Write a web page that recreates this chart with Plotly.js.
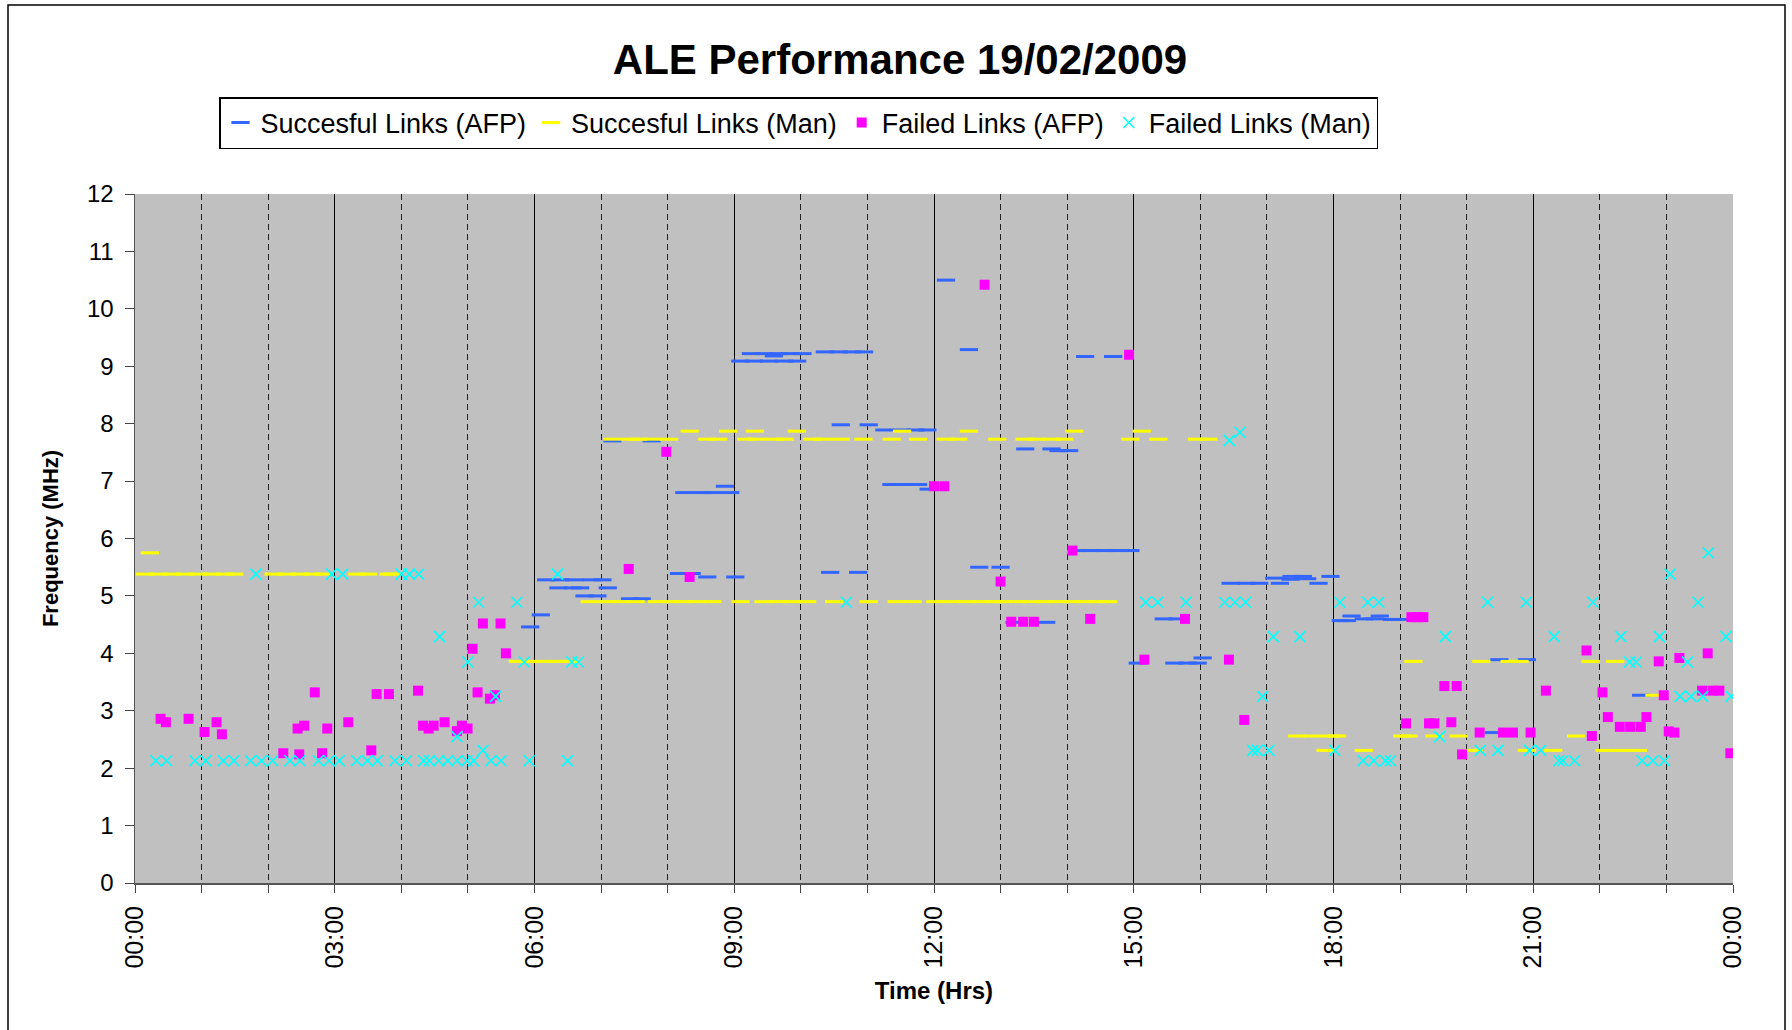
<!DOCTYPE html>
<html>
<head>
<meta charset="utf-8">
<script src="https://cdn.plot.ly/plotly-3.0.1.min.js"></script>
<style>html,body{margin:0;padding:0;background:#fff;}#chart{width:1792px;height:1030px;}</style>
</head>
<body>
<div id="chart"></div>
<script>
// ---- Data (time in hours of day, frequency in MHz) ----
const afpSuccTime = [5.935,6.095,6.175,6.385,6.60,6.86,7.02,6.36,6.575,6.685,7.10,6.75,6.945,7.435,7.61,7.17,7.76,
  9.09,9.295,9.52,9.75,9.945,9.25,9.445,9.67,9.845,10.025,9.595,10.36,10.57,10.77,10.95,10.6,11.02,
  11.255,11.52,11.72,11.9,8.25,8.515,8.675,8.94,8.86,11.36,11.56,11.76,11.92,8.17,8.36,8.595,9.015,10.44,10.86,
  12.18,12.525,14.27,14.69,13.37,13.765,13.87,14.03,14.165,14.37,14.565,14.77,14.95,12.68,13.0,13.21,13.685,
  15.45,15.66,15.06,15.61,15.81,15.96,16.035,
  16.455,16.69,16.885,17.11,17.195,17.37,17.54,17.955,17.355,17.605,17.775,
  18.27,18.11,18.2,18.455,18.62,18.695,18.88,18.985,
  20.49,20.905,20.41,22.62];
const afpSuccFreq = [4.46,4.67,5.28,5.28,5.28,5.28,5.28,5.14,5.14,5.14,5.14,5.0,5.0,4.95,4.95,7.70,7.70,
  9.09,9.09,9.09,9.09,9.09,9.22,9.22,9.22,9.22,9.22,9.18,9.25,9.25,9.25,9.25,7.98,7.98,
  7.89,7.89,7.89,7.89,6.80,6.80,6.80,6.80,6.91,6.94,6.94,6.94,6.86,5.39,5.39,5.33,5.33,5.41,5.41,
  10.50,9.29,9.17,9.17,7.56,7.56,7.53,7.53,5.79,5.79,5.79,5.79,5.79,5.50,5.50,4.54,4.54,
  4.60,4.60,3.83,3.83,3.83,3.83,3.92,
  5.22,5.22,5.22,5.31,5.22,5.34,5.34,5.34,5.29,5.30,5.22,
  4.65,4.57,4.57,4.60,4.60,4.65,4.59,4.59,
  3.89,3.89,2.62,3.27];

const manSuccTime = [0.224,0.149,0.349,0.549,0.75,0.95,1.15,1.35,1.49,2.08,2.28,2.48,2.68,2.83,3.34,3.50,3.81,3.86,
  5.75,5.935,6.135,6.335,6.51,6.83,7.10,7.30,7.52,7.84,8.04,8.24,8.44,8.67,7.17,7.435,7.56,7.76,8.02,
  8.33,8.91,9.31,9.94,11.52,8.595,8.76,9.18,9.335,9.595,9.76,10.175,10.335,10.6,10.94,11.365,11.76,
  9.095,9.44,9.67,9.86,10.095,10.5,11.02,11.44,11.68,
  12.02,12.26,12.49,12.71,12.91,13.03,13.26,13.46,13.66,13.865,14.065,14.265,14.465,14.615,
  12.525,14.105,15.12,12.175,12.365,12.95,13.36,13.54,13.765,13.955,14.95,15.37,15.95,16.12,
  19.2,17.455,17.695,17.955,18.055,19.03,19.13,19.515,19.88,17.88,18.455,
  20.22,20.645,20.795,21.86,22.23,22.82,21.645,20.11,20.905,21.30,22.07,22.305,22.57];
const manSuccFreq = [5.75,5.38,5.38,5.38,5.38,5.38,5.38,5.38,5.38,5.38,5.38,5.38,5.38,5.38,5.38,5.38,5.38,5.38,
  3.86,3.86,3.86,3.86,3.86,4.90,4.90,4.90,4.90,4.90,4.90,4.90,4.90,4.90,7.73,7.73,7.73,7.73,7.73,
  7.87,7.87,7.87,7.87,7.87,7.73,7.73,7.73,7.73,7.73,7.73,7.73,7.73,7.73,7.73,7.73,7.73,
  4.90,4.90,4.90,4.90,4.90,4.90,4.90,4.90,4.90,
  4.90,4.90,4.90,4.90,4.90,4.90,4.90,4.90,4.90,4.90,4.90,4.90,4.90,4.90,
  7.87,7.87,7.87,7.73,7.73,7.73,7.73,7.73,7.73,7.73,7.73,7.73,7.73,7.73,
  3.86,2.56,2.56,2.56,2.56,2.56,2.56,2.56,2.56,2.31,2.31,
  3.86,3.86,3.86,3.86,3.86,3.27,2.56,2.31,2.31,2.31,2.31,2.31,2.31];

const afpFailTime = [0.384,0.464,0.805,1.045,1.225,1.305,2.227,2.467,2.442,2.542,2.70,2.81,2.888,3.203,3.549,3.629,3.814,
  4.25,4.325,4.41,4.485,4.65,4.835,4.91,4.995,5.07,5.225,5.49,5.57,5.145,5.33,5.405,7.415,7.98,
  8.33,
  12.76,14.93,12.0,12.155,14.08,13.0,13.16,13.34,13.50,14.345,15.77,15.16,
  16.43,16.66,19.17,19.26,19.35,19.665,19.85,19.09,19.435,19.515,19.77,19.93,
  21.8,21.19,22.04,22.885,22.96,23.195,23.62,23.535,23.695,23.795,22.12,22.30,22.455,22.615,22.70,23.035,23.12,21.88,
  20.195,20.545,20.695,20.96,23.96];
const afpFailFreq = [2.86,2.80,2.86,2.63,2.80,2.59,2.26,2.24,2.69,2.74,3.32,2.26,2.69,2.80,2.31,3.29,3.29,
  3.35,2.74,2.69,2.74,2.80,2.645,2.74,2.69,4.08,4.52,4.52,4.0,3.32,3.21,3.27,5.47,7.51,
  5.33,
  10.42,9.2,6.91,6.91,5.79,5.25,4.55,4.55,4.55,4.6,4.6,3.89,
  3.89,2.84,4.63,4.63,4.63,3.43,3.43,2.78,2.78,2.78,2.80,2.24,
  4.05,3.35,3.32,3.86,3.27,3.92,4.0,3.35,3.35,3.35,2.89,2.72,2.72,2.72,2.89,2.64,2.62,2.56,
  2.62,2.62,2.62,2.62,2.26];

const manFailTime = [1.816,2.953,3.118,4.0,4.12,4.26,
  0.314,0.474,0.90,1.065,1.325,1.486,1.736,1.90,2.067,2.327,2.477,2.753,2.913,3.068,3.329,3.489,3.639,3.904,
  5.16,5.735,4.575,5.0,5.415,5.845,6.345,6.56,6.66,4.835,5.225,
  4.075,4.335,4.42,4.56,4.695,4.835,4.985,5.085,5.345,5.495,5.92,6.495,
  10.685,15.18,15.36,15.785,
  16.435,16.595,16.365,16.52,16.68,18.095,18.515,18.68,17.095,17.495,19.68,16.935,16.785,16.855,17.03,18.02,
  18.445,18.605,18.78,18.855,19.595,
  23.63,23.055,20.315,20.895,21.895,23.475,21.315,22.315,22.895,23.895,22.445,22.545,23.315,
  23.205,23.37,23.545,23.97,20.205,20.47,20.945,21.11,21.385,21.445,21.62,22.635,22.795,22.97];
const manFailFreq = [5.38,5.38,5.38,5.38,5.38,5.38,
  2.13,2.13,2.13,2.13,2.13,2.13,2.13,2.13,2.13,2.13,2.13,2.13,2.13,2.13,2.13,2.13,2.13,2.13,
  4.89,4.89,4.29,3.85,3.25,3.85,5.38,3.85,3.85,2.55,2.31,
  2.13,2.13,2.13,2.13,2.13,2.13,2.13,2.13,2.13,2.13,2.13,2.13,
  4.89,4.89,4.89,4.89,
  7.71,7.85,4.89,4.89,4.89,4.89,4.89,4.89,4.29,4.29,4.29,3.25,2.31,2.31,2.31,2.31,
  2.13,2.13,2.13,2.13,2.55,
  5.75,5.38,4.89,4.89,4.89,4.89,4.29,4.29,4.29,4.29,3.85,3.85,3.85,
  3.25,3.25,3.25,3.25,2.31,2.31,2.31,2.31,2.13,2.13,2.13,2.13,2.13,2.13];

const seriesNames = ['Succesful Links (AFP)','Succesful Links (Man)','Failed Links (AFP)','Failed Links (Man)'];
const hourTicks = [0,3,6,9,12,15,18,21,24];
const hourLabels = ['00:00','03:00','06:00','09:00','12:00','15:00','18:00','21:00','00:00'];
const minorHours = [1,2,4,5,7,8,10,11,13,14,16,17,19,20,22,23];
const freqTicks = [0,1,2,3,4,5,6,7,8,9,10,11,12];

const FONT = 'Liberation Sans, Arial, sans-serif';

const traces = [
  {x: afpSuccTime, y: afpSuccFreq, name: seriesNames[0], type:'scatter', mode:'markers',
   marker:{symbol:'line-ew', size:13, color:'#3366FF', line:{color:'#3366FF', width:3}}},
  {x: manSuccTime, y: manSuccFreq, name: seriesNames[1], type:'scatter', mode:'markers',
   marker:{symbol:'line-ew', size:13, color:'#FFFF00', line:{color:'#FFFF00', width:3}}},
  {x: afpFailTime, y: afpFailFreq, name: seriesNames[2], type:'scatter', mode:'markers',
   marker:{symbol:'square', size:10, color:'#FF00FF', line:{width:0}}},
  {x: manFailTime, y: manFailFreq, name: seriesNames[3], type:'scatter', mode:'markers',
   marker:{symbol:'x-thin-open', size:11, color:'#00FFFF', line:{color:'#00FFFF', width:1.6}}}
];

const L = 135, R = 1733, T = 194, B = 883;
const pw = R - L, ph = B - T;

const layout = {
  width: 1792, height: 1030,
  margin: {l: L, r: 1792 - R, t: T, b: 1030 - B, pad: 0},
  paper_bgcolor: '#FFFFFF',
  plot_bgcolor: '#C0C0C0',
  font: {family: FONT, color: '#000'},
  showlegend: true,
  title: {text: 'ALE Performance 19/02/2009', font: {family: FONT, size: 42, weight: 'bold', color: '#000'},
          xref: 'container', x: 900/1792, xanchor: 'center', yref: 'container', y: 1 - 59/1030, yanchor: 'middle'},
  legend: {orientation: 'h', x: (219 - L)/pw, xanchor: 'left', y: (B - 97)/ph, yanchor: 'top',
           bgcolor: '#FFFFFF', bordercolor: '#000', borderwidth: 1.5, tracegroupgap: 0,
           font: {family: FONT, size: 27, color: '#000'}, itemclick: false},
  xaxis: {
    range: [0, 24], tickmode: 'array', tickvals: hourTicks, ticktext: hourLabels, tickangle: -90,
    ticks: 'outside', ticklen: 8, tickcolor: '#444', tickwidth: 1, ticklabelstandoff: 3,
    tickfont: {family: FONT, size: 25, color: '#000'},
    showline: true, linecolor: '#555', linewidth: 2,
    showgrid: true, gridcolor: '#000', gridwidth: 1, zeroline: false,
    minor: {tickmode: 'array', tickvals: minorHours, ticks: 'outside', ticklen: 8, tickcolor: '#444',
            showgrid: true, gridcolor: '#222', gridwidth: 1, griddash: '6px,4px'},
    title: {text: 'Time (Hrs)', font: {family: FONT, size: 24, weight: 'bold', color: '#000'}, standoff: 15},
    fixedrange: true
  },
  yaxis: {
    range: [0, 12], tickmode: 'array', tickvals: freqTicks,
    ticks: 'outside', ticklen: 9, tickcolor: '#444', tickwidth: 1, ticklabelstandoff: 6,
    tickfont: {family: FONT, size: 24, color: '#000'},
    showline: true, linecolor: '#555', linewidth: 1.5,
    showgrid: false, zeroline: false,
    title: {text: 'Frequency (MHz)', font: {family: FONT, size: 22, weight: 'bold', color: '#000'}, standoff: 22},
    fixedrange: true
  },
  shapes: [
    {type: 'rect', xref: 'paper', yref: 'paper',
     x0: (8 - L)/pw, x1: (1785 - L)/pw, y0: (B - 1040)/ph, y1: (B - 5)/ph,
     line: {color: '#000', width: 1.5}, fillcolor: 'rgba(0,0,0,0)', layer: 'below'}
  ]
};

Plotly.newPlot('chart', traces, layout, {displayModeBar: false, staticPlot: true});
</script>
</body>
</html>
